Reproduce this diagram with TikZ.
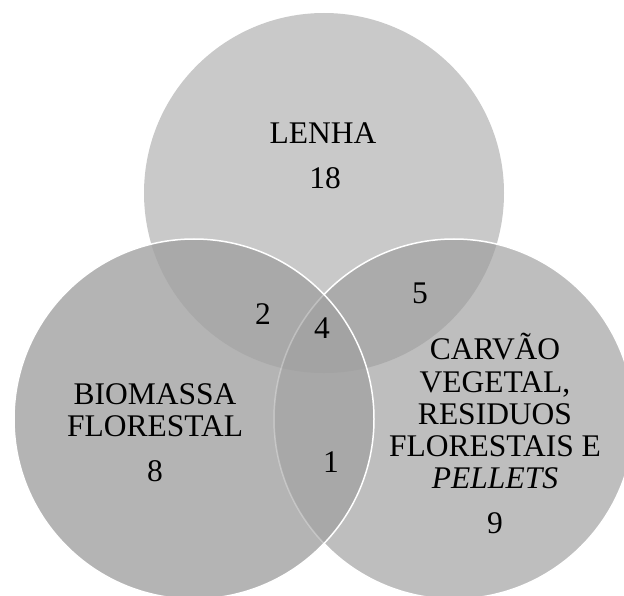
\documentclass[tikz,border=0pt]{standalone}
\usepackage{fontspec}
\setmainfont{Liberation Serif}
\definecolor{ctop}{HTML}{C9C9C9}
\definecolor{cleft}{HTML}{B4B4B4}
\definecolor{cright}{HTML}{BEBEBE}
\definecolor{ctl}{HTML}{A9A9A9}
\definecolor{ctr}{HTML}{ABABAB}
\definecolor{clr}{HTML}{A8A8A8}
\definecolor{call}{HTML}{A3A3A3}
\newcommand\circT{(324,193) circle[radius=180pt]}
\newcommand\circL{(194,419) circle[radius=180pt]}
\newcommand\circR{(454,419) circle[radius=180pt]}
\tikzset{
  lbl/.style={anchor=base, inner sep=0pt, font=\fontsize{31.5}{32.5}\selectfont, text=black},
  rim/.style={draw=white, line width=1.5pt}
}
\begin{document}
\begin{tikzpicture}[x=1pt,y=-1pt]
\useasboundingbox (0,0) rectangle (624,596);
\clip (0,0) rectangle (624,596);
% top circle
\fill[ctop] \circT;
% right circle
\fill[cright] \circR;
\begin{scope}
  \clip \circT;
  \fill[ctr] \circR;
\end{scope}
\path[rim] \circR;
% left circle
\fill[cleft] \circL;
\begin{scope}
  \clip \circL;
  \fill[ctl] \circT;
  \fill[clr] \circR;
  \clip \circT;
  \fill[call] \circR;
\end{scope}
\begin{scope}
  \clip \circL;
  \path[rim, draw opacity=0.3] \circR;
\end{scope}
\path[rim] \circL;
% labels
\node[lbl] (lenha) at (323,144) {LENHA};
\node[lbl] (n18) at (325,189) {18};
\node[lbl] (bio1) at (155,404) {BIOMASSA};
\node[lbl] (bio2) at (155,436) {FLORESTAL};
\node[lbl] (n8) at (155,481) {8};
\node[lbl] (car1) at (495,359) {CARVÃO};
\node[lbl] (car2) at (495,392) {VEGETAL,};
\node[lbl] (car3) at (495,424) {RESIDUOS};
\node[lbl] (car4) at (495,456) {FLORESTAIS E};
\node[lbl] (car5) at (495,488) {\itshape PELLETS};
\node[lbl] (n9) at (495,533) {9};
\node[lbl] (n2) at (263,324) {2};
\node[lbl] (n4) at (322,338) {4};
\node[lbl] (n5) at (420,303) {5};
\node[lbl] (n1) at (331,472) {1};
\end{tikzpicture}
\end{document}
